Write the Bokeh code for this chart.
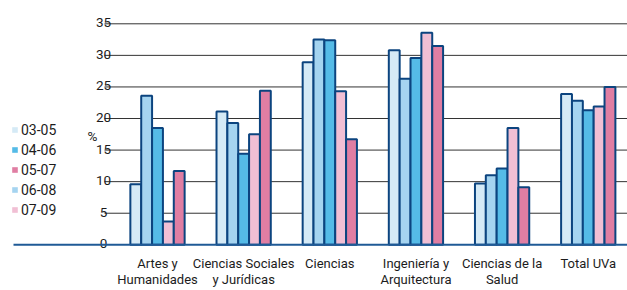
from bokeh.plotting import figure
from bokeh.models import Legend, LegendItem
from bokeh.core.properties import value
from bokeh.embed import file_html
from bokeh.resources import INLINE

categories = ["Artes y\nHumanidades", "Ciencias Sociales\ny Jurídicas", "Ciencias",
              "Ingeniería y\nArquitectura", "Ciencias de la\nSalud", "Total UVa"]
periods = ["03-05", "04-06", "05-07", "06-08", "07-09"]
s03_05 = [9.6, 21.1, 28.9, 30.8, 9.7, 23.9]
s04_06 = [18.5, 14.4, 32.4, 29.6, 12.1, 21.3]
s05_07 = [11.7, 24.4, 16.7, 31.5, 9.1, 25.0]
s06_08 = [23.6, 19.3, 32.5, 26.3, 11.0, 22.8]
s07_09 = [3.7, 17.5, 24.3, 33.6, 18.5, 21.9]
y_ticks = [0, 5, 10, 15, 20, 25, 30, 35]

colors = {"03-05": "#d5eaf6", "04-06": "#55bbe7", "05-07": "#e07ea3",
          "06-08": "#a5d4f0", "07-09": "#f1bfd4"}
series = {"03-05": s03_05, "04-06": s04_06, "05-07": s05_07,
          "06-08": s06_08, "07-09": s07_09}
bar_order = ["03-05", "06-08", "04-06", "07-09", "05-07"]

FONT_S = "Roboto"
FONT = value(FONT_S)
TXT = "#1c1c1c"

x_start, x_end = -1.8224, 5.4556
y_start, y_end = -7.238, 38.69
p = figure(width=627, height=290, output_backend="svg", toolbar_location=None,
           x_range=(x_start, x_end), y_range=(y_start, y_end),
           min_border_left=0, min_border_right=0, min_border_top=0, min_border_bottom=0,
           x_axis_location=None, y_axis_location=None)
p.outline_line_color = None
p.xgrid.visible = False
p.ygrid.visible = False
p.background_fill_color = "white"

# gridlines
grid_vals = y_ticks[1:]
p.segment(x0=[-0.615] * len(grid_vals), y0=grid_vals, x1=[x_end] * len(grid_vals), y1=grid_vals,
          line_color="#333333", line_width=1)

# y tick labels
p.text(x=[-0.627] * len(y_ticks), y=y_ticks, text=[str(t) for t in y_ticks],
       text_align="center", text_baseline="alphabetic", y_offset=-1,
       text_font=FONT, text_font_size="13.5px", text_color=TXT)
p.text(x=[-0.754], y=[17.3], text=["%"], text_align="center", text_baseline="alphabetic",
       text_font=FONT, text_font_size="13.5px", text_color=TXT)

bw = 0.126
idx = list(range(len(categories)))
fills = {}
for j, per in enumerate(bar_order):
    off = (j - 2) * bw
    xs = [i + off for i in idx]
    fills[per] = p.vbar(x=xs, top=series[per], bottom=0, width=bw,
                        fill_color=colors[per], line_color=None)
    p.vbar(x=xs, top=series[per], bottom=0, width=bw,
           fill_color=None, line_color="#0c447f", line_width=2)

# baseline (category axis line)
p.segment(x0=[-1.6715], y0=[0], x1=[x_end], y1=[0], line_color="#1f5a96", line_width=2)

# category labels (two lines)
line1 = [c.split("\n")[0] for c in categories]
line2 = [c.split("\n")[1] if "\n" in c else "" for c in categories]
p.text(x=idx, y=[-3.04] * len(idx), text=line1, text_align="center", text_baseline="alphabetic",
       text_font=FONT, text_font_size="13px", text_color=TXT)
p.text(x=idx, y=[-5.42] * len(idx), text=line2, text_align="center", text_baseline="alphabetic",
       text_font=FONT, text_font_size="13px", text_color=TXT)

items = [LegendItem(label=per, renderers=[fills[per]]) for per in periods]
legend = Legend(items=items, location=(11, 71), orientation="vertical",
                glyph_width=7, glyph_height=7, label_height=19, spacing=1,
                label_standoff=3, padding=0, margin=0,
                background_fill_alpha=0, border_line_color=None,
                label_text_font=FONT_S, label_text_font_size="14px", label_text_color=TXT)
p.add_layout(legend, "center")

open("out.html", "w").write(file_html(p, INLINE))
